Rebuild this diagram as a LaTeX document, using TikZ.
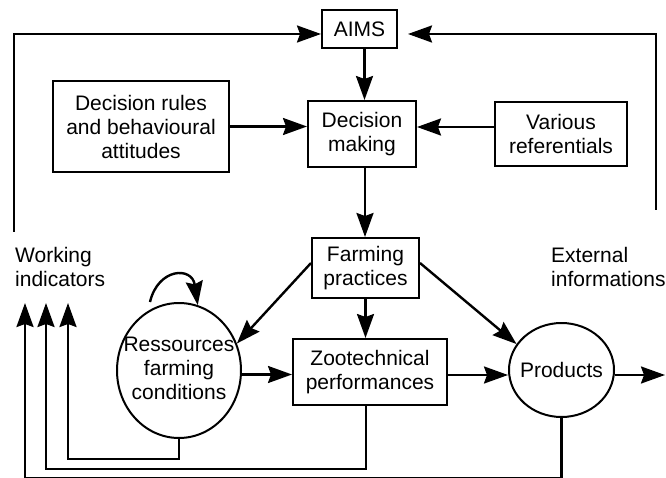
\documentclass[tikz,border=0pt]{standalone}
\usepackage{fontspec}
\setmainfont{Liberation Sans}
\usetikzlibrary{arrows.meta,calc,shapes.geometric}
\begin{document}
\begin{tikzpicture}[x=1pt,y=-1pt,
  every node/.style={font=\fontsize{21}{24}\selectfont, align=center, inner sep=0pt},
  box/.style={draw, line width=2pt, rectangle},
  oval/.style={draw, line width=2pt, ellipse},
  arr/.style={line width=2.4pt, -{Stealth[length=24pt,width=17pt,inset=3pt]}}]
\useasboundingbox (0,0) rectangle (666,478);
\node[box, minimum width=75, minimum height=38] (aims) at (359.5,29) {AIMS};
\node[box, minimum width=176, minimum height=91] (dr) at (141,126.5) {Decision rules\\and behavioural\\attitudes};
\node[box, minimum width=108, minimum height=66] (dm) at (362,134) {Decision\\making};
\node[box, minimum width=132, minimum height=64] (vr) at (561,134) {Various\\referentials};
\node[box, minimum width=107, minimum height=60] (fp) at (365.5,268) {Farming\\practices};
\node[box, minimum width=154, minimum height=66] (zoo) at (370,372) {Zootechnical\\performances};
\node[oval, minimum width=124, minimum height=135] (res) at (179,370.5) {\makebox[0pt]{\begin{tabular}{@{}c@{}}Ressources\\farming\\conditions\end{tabular}}};
\node[oval, minimum width=105, minimum height=94] (prod) at (561.5,370) {\makebox[0pt]{Products}};
\node[anchor=north west, align=left] (wi) at (15,247) {Working\\indicators};
\node[anchor=north west, align=left] (ei) at (551,247) {External\\informations};
\coordinate (tl) at (14,232);
\coordinate (tr) at (656,210);
\coordinate (out) at (665,375);
\coordinate (w1) at (25,303);
\coordinate (w2) at (46,303);
\coordinate (w3) at (68,303);
\coordinate (ls) at (150,302);
\draw[arr] (tl) |- ([yshift=-5pt]aims.west);
\draw[arr] (tr) |- ([xshift=10pt,yshift=-5pt]aims.east);
\draw[arr] ([xshift=5pt]aims.south) -- ([xshift=5pt]aims.south |- dm.north);
\draw[arr] (dr.east) -- (dr.east -| dm.west);
\draw[arr] ([yshift=7pt]vr.west) -- ([yshift=7pt]vr.west -| dm.east);
\draw[arr] ([xshift=3pt]dm.south) -- ([xshift=3pt]dm.south |- fp.north);
\draw[arr] (fp.south) -- (fp.south |- zoo.north);
\draw[arr] ([yshift=5pt]fp.west) -- (res.25);
\draw[arr] ([yshift=5pt]fp.east) -- (prod.150);
\draw[arr] ([yshift=-4pt]res.east) -- ([yshift=-4pt]res.east -| zoo.west);
\draw[arr] ([yshift=-3pt]zoo.east) -- ([yshift=-3pt]zoo.east -| prod.west);
\draw[arr] ([yshift=-5pt]prod.east) -- (out);
\draw[arr] (ls) .. controls (158,268) and (192,266) .. (res.74);
\draw[arr] (res.south) -- ++(0,20) -| (w3);
\draw[arr] ([xshift=-4pt]zoo.south) -- ++(0,63) -| (w2);
\draw[arr] (prod.south) -- ++(0,60) -| (w1);
\end{tikzpicture}
\end{document}
